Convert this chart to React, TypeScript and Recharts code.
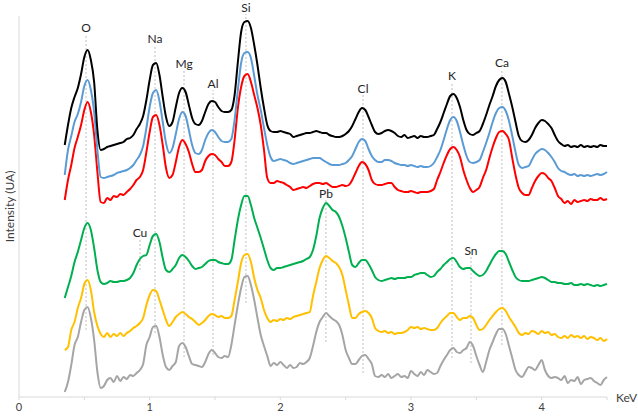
import { LineChart, Line, XAxis, YAxis, ReferenceLine } from "recharts";

// intensity (arbitrary units, stacked traces) sampled every 0.025 keV from 0.35 keV
const black = [
  252, 272, 289, 300, 309, 323, 340, 347, 337, 315,
  267, 247, 248, 250, 251, 252, 253, 254, 255, 258,
  259, 262, 268, 273, 281, 297, 317, 332, 334, 322,
  300, 280, 271, 275, 290, 304, 309, 305, 292, 279,
  273, 272, 276, 285, 293, 296, 295, 290, 286, 285,
  285, 287, 302, 335, 365, 375, 376, 369, 352, 332,
  309, 289, 272, 266, 265, 265, 266, 265, 264, 263,
  260, 261, 262, 263, 264, 264, 265, 266, 265, 264,
  264, 262, 261, 260, 260, 261, 263, 266, 271, 278,
  285, 289, 287, 280, 272, 265, 263, 264, 266, 267,
  266, 264, 261, 260, 262, 259, 260, 261, 259, 261,
  260, 260, 261, 262, 268, 275, 284, 293, 301, 303,
  299, 290, 277, 267, 263, 262, 264, 266, 273, 282,
  292, 301, 311, 317, 319, 315, 303, 290, 275, 261,
  256, 255, 257, 262, 269, 274, 277, 276, 273, 269,
  262, 256, 253, 251, 252, 250, 251, 250, 252, 250,
  251, 250, 251, 250, 252, 251, 251,
];

const blue = [
  222, 247, 261, 275, 283, 295, 311, 317, 307, 285,
  247, 220, 219, 220, 221, 222, 224, 225, 226, 227,
  229, 232, 237, 242, 251, 269, 290, 304, 307, 296,
  275, 254, 244, 249, 263, 278, 285, 281, 267, 252,
  244, 243, 247, 257, 264, 267, 265, 260, 256, 255,
  255, 258, 277, 307, 334, 344, 345, 339, 321, 302,
  287, 269, 252, 240, 236, 237, 238, 237, 236, 234,
  233, 234, 235, 236, 237, 238, 239, 239, 239, 237,
  235, 233, 232, 232, 232, 233, 234, 237, 241, 248,
  255, 258, 256, 248, 241, 237, 235, 235, 237, 237,
  236, 234, 233, 232, 232, 231, 232, 231, 230, 231,
  230, 230, 231, 234, 240, 247, 257, 268, 277, 280,
  276, 265, 252, 241, 235, 234, 235, 237, 245, 254,
  264, 275, 284, 289, 290, 286, 276, 261, 245, 232,
  229, 230, 231, 237, 243, 246, 248, 247, 244, 240,
  235, 229, 226, 225, 223, 222, 223, 221, 222, 221,
  222, 221, 222, 223, 222, 223, 225,
];

const red = [
  197, 217, 232, 249, 260, 272, 287, 295, 285, 262,
  225, 195, 194, 199, 197, 201, 200, 203, 202, 205,
  208, 212, 217, 220, 227, 245, 265, 280, 282, 272,
  252, 229, 219, 222, 235, 250, 257, 253, 245, 233,
  225, 225, 227, 236, 241, 243, 242, 238, 235, 231,
  231, 235, 257, 289, 310, 321, 323, 315, 302, 289,
  272, 247, 219, 214, 214, 216, 215, 214, 212, 210,
  207, 208, 209, 210, 209, 211, 213, 214, 214, 213,
  214, 212, 210, 210, 211, 212, 211, 212, 217, 224,
  231, 235, 233, 227, 217, 213, 212, 212, 213, 214,
  214, 210, 207, 206, 205, 205, 206, 205, 204, 205,
  205, 205, 206, 208, 217, 225, 234, 242, 248, 250,
  247, 240, 227, 217, 209, 205, 207, 210, 219, 227,
  239, 250, 259, 265, 266, 263, 257, 239, 222, 209,
  204, 202, 202, 209, 216, 221, 224, 223, 219, 216,
  209, 201, 198, 194, 196, 193, 197, 195, 196, 197,
  196, 198, 197, 197, 199, 197, 198,
];

const green = [
  99, 110, 121, 135, 145, 157, 169, 174, 167, 149,
  127, 115, 113, 114, 116, 115, 115, 116, 116, 117,
  119, 124, 132, 138, 141, 142, 152, 161, 163, 155,
  139, 127, 125, 128, 132, 139, 142, 140, 136, 131,
  128, 129, 130, 133, 136, 137, 137, 135, 134, 133,
  133, 137, 157, 177, 192, 201, 201, 192, 179, 169,
  159, 148, 137, 129, 127, 129, 129, 130, 131, 132,
  133, 134, 135, 136, 138, 140, 147, 161, 179, 189,
  194, 191, 187, 185, 180, 171, 159, 145, 132, 130,
  134, 137, 137, 133, 127, 120, 117, 116, 117, 118,
  119, 118, 119, 119, 119, 120, 120, 122, 123, 124,
  124, 122, 120, 121, 125, 128, 132, 135, 138, 139,
  135, 130, 128, 129, 129, 126, 123, 121, 122, 126,
  132, 138, 143, 146, 146, 143, 135, 127, 120, 117,
  116, 116, 116, 117, 118, 119, 120, 119, 117, 115,
  115, 114, 114, 113, 113, 114, 112, 112, 113, 112,
  113, 112, 111, 112, 111, 112, 113,
];

const yellow = [
  47, 50, 67, 75, 89, 99, 113, 117, 107, 85,
  71, 63, 60, 64, 60, 63, 61, 64, 61, 64,
  66, 69, 71, 74, 79, 92, 102, 107, 106, 97,
  87, 77, 71, 75, 80, 83, 85, 83, 80, 78,
  75, 72, 74, 77, 81, 83, 82, 80, 81, 79,
  79, 81, 97, 115, 134, 142, 143, 135, 119, 107,
  99, 87, 79, 75, 77, 76, 78, 77, 79, 78,
  80, 81, 82, 83, 84, 85, 101, 115, 129, 137,
  141, 139, 136, 134, 130, 122, 107, 92, 79, 79,
  83, 85, 86, 84, 79, 69, 66, 65, 66, 64,
  65, 63, 64, 64, 65, 67, 70, 69, 70, 68,
  69, 68, 67, 67, 69, 74, 78, 81, 84, 84,
  80, 77, 79, 79, 81, 79, 72, 67, 68, 72,
  77, 81, 85, 88, 89, 86, 80, 75, 70, 64,
  62, 64, 63, 66, 65, 63, 66, 64, 65, 62,
  63, 60, 59, 61, 59, 62, 60, 61, 59, 61,
  58, 60, 59, 57, 59, 56, 58,
];

const gray = [
  5, 15, 32, 52, 60, 75, 87, 90, 79, 57,
  25, 9, 11, 17, 19, 15, 21, 16, 20, 18,
  22, 21, 24, 27, 33, 52, 60, 70, 71, 60,
  42, 30, 27, 31, 35, 51, 54, 50, 41, 33,
  32, 31, 30, 35, 43, 47, 44, 40, 39, 41,
  40, 52, 72, 92, 109, 120, 121, 112, 97, 79,
  62, 51, 41, 31, 34, 32, 35, 32, 29, 32,
  29, 30, 34, 33, 35, 39, 51, 65, 75, 80,
  84, 81, 78, 76, 72, 62, 47, 39, 33, 33,
  37, 41, 42, 38, 33, 21, 20, 22, 20, 23,
  19, 21, 23, 20, 21, 19, 26, 23, 21, 25,
  22, 27, 25, 23, 24, 31, 37, 42, 47, 49,
  45, 44, 47, 49, 55, 51, 41, 32, 25, 35,
  47, 55, 63, 68, 68, 63, 51, 39, 27, 22,
  20, 25, 30, 29, 27, 32, 37, 27, 21, 19,
  20, 19, 17, 21, 14, 17, 16, 20, 13, 17,
  18, 19, 16, 14, 12, 17, 20,
];

// energy channels (keV), evenly spaced
const kev = black.map((_, i) => +(0.35 + i * 0.025).toFixed(3));

const xTicks = [0, 0.5, 1, 1.5, 2, 2.5, 3, 3.5, 4, 4.5];

// element markers: label, energy, dotted line top/bottom (intensity units)
const elements = ["O", "Na", "Mg", "Al", "Si", "Cl", "K", "Ca", "Cu", "Pb", "Sn"];
const elementKev = [0.513, 1.041, 1.263, 1.485, 1.737, 2.633, 3.314, 3.696, 0.926, 2.349, 3.459];
const markerTop = [363, 352, 327, 307, 383, 302, 315, 328, 158, 197, 140];
const markerBottom = [67, 64, 40, 42, 94, 24, 39, 52, 127, 55, 34];

const rows = kev.map((k, i) => ({
  kev: k,
  black: black[i],
  blue: blue[i],
  red: red[i],
  green: green[i],
  yellow: yellow[i],
  gray: gray[i],
}));

const traces = [
  { key: "gray", color: "#a5a5a5" },
  { key: "yellow", color: "#ffc000" },
  { key: "green", color: "#00b050" },
  { key: "red", color: "#ff0000" },
  { key: "blue", color: "#5b9bd5" },
  { key: "black", color: "#000000" },
];

const font = "Lato, 'Noto Sans', sans-serif";

export default function App() {
  return (
    <div style={{ position: "absolute", left: 0, top: 0, fontFamily: font }}>
      <LineChart
        width={638}
        height={416}
        data={rows}
        margin={{ top: 16, right: 31, bottom: 0, left: 0 }}
      >
        <XAxis
          dataKey="kev"
          type="number"
          domain={[0, 4.5]}
          ticks={xTicks}
          tickFormatter={(v: number) => (Number.isInteger(v) ? String(v) : "")}
          height={19}
          stroke="#d9d9d9"
          tickSize={3}
          tickMargin={3}
          tick={{ fill: "#404040", fontSize: 11, fontFamily: font }}
          label={{
            value: "KeV",
            position: "right",
            offset: 9,
            dy: -9,
            fill: "#404040",
            fontSize: 12,
            fontFamily: font,
          }}
        />
        <YAxis
          type="number"
          domain={[0, 381]}
          width={19}
          tick={false}
          tickLine={false}
          stroke="#d9d9d9"
          label={{
            value: "Intensity (UA)",
            angle: -90,
            position: "center",
            fill: "#404040",
            fontSize: 12,
            fontFamily: font,
          }}
        />

        {/* dotted element markers */}
        {elements.map((el, i) => (
          <ReferenceLine
            key={el}
            ifOverflow="visible"
            segment={[
              { x: elementKev[i], y: markerBottom[i] },
              { x: elementKev[i], y: markerTop[i] },
            ]}
            stroke="#bfbfbf"
            strokeDasharray="2 2"
            label={{
              value: el,
              position: "top",
              offset: 2,
              fill: "#262626",
              fontSize: 12,
              fontFamily: font,
            }}
          />
        ))}

        {traces.map((t) => (
          <Line
            key={t.key}
            dataKey={t.key}
            type="monotone"
            stroke={t.color}
            strokeWidth={2}
            dot={false}
            activeDot={false}
            isAnimationActive={false}
          />
        ))}
      </LineChart>
    </div>
  );
}
